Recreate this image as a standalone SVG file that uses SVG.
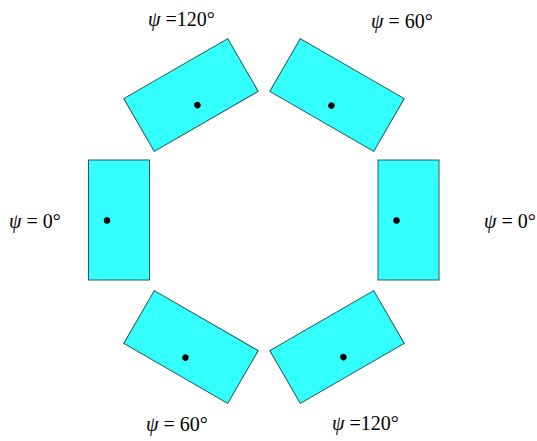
<svg xmlns="http://www.w3.org/2000/svg" xmlns:xlink="http://www.w3.org/1999/xlink" width="537" height="441" viewBox="0 0 537 441">
<style>
.blk{fill:#33ffff;stroke:#2a5a5a;stroke-width:1}
.dot{fill:#000}
.lbl{font-family:"Liberation Serif","Times New Roman",serif;font-size:20px;fill:#000}
.psi{font-style:italic}
</style>
<defs>
<g id="block">
<rect class="blk" x="-30.5" y="-60" width="61" height="120"/>
<circle class="dot" cx="-12" cy="0.5" r="3.2"/>
</g>
</defs>
<rect width="537" height="441" fill="#fff"/>
<g id="node-left">
<use xlink:href="#block" transform="translate(119,220)"/>
<text class="lbl" x="9" y="228"><tspan class="psi">ψ</tspan> = 0°</text>
</g>
<g id="node-right">
<use xlink:href="#block" transform="translate(408.5,220)"/>
<text class="lbl" x="484" y="228"><tspan class="psi">ψ</tspan> = 0°</text>
</g>
<g id="node-top-left">
<use xlink:href="#block" transform="translate(191,95) rotate(-120)"/>
<text class="lbl" x="148" y="26"><tspan class="psi">ψ</tspan> =120°</text>
</g>
<g id="node-top-right">
<use xlink:href="#block" transform="translate(337,95) rotate(-60)"/>
<text class="lbl" x="371" y="28"><tspan class="psi">ψ</tspan> = 60°</text>
</g>
<g id="node-bottom-left">
<use xlink:href="#block" transform="translate(191,347) rotate(-60)"/>
<text class="lbl" x="146" y="431"><tspan class="psi">ψ</tspan> = 60°</text>
</g>
<g id="node-bottom-right">
<use xlink:href="#block" transform="translate(337,347) rotate(-120)"/>
<text class="lbl" x="332" y="430"><tspan class="psi">ψ</tspan> =120°</text>
</g>
</svg>
